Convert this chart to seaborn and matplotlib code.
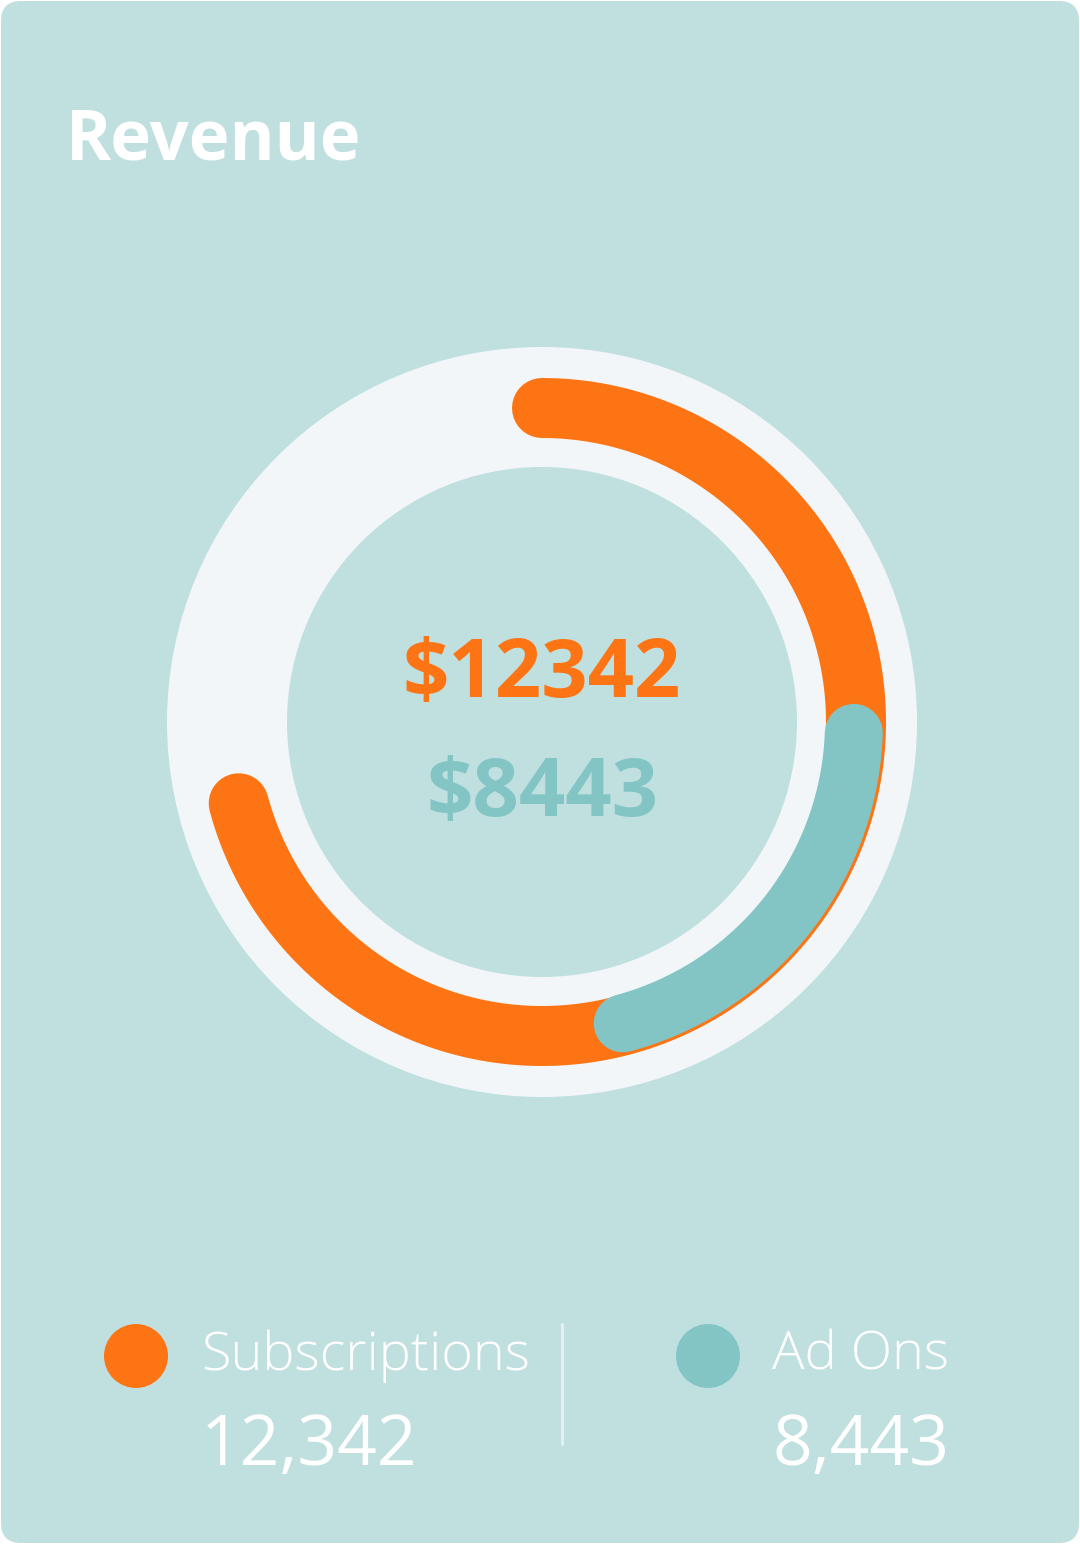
import numpy as np
import pandas as pd
import seaborn as sns
import matplotlib
matplotlib.use("Agg")
import matplotlib.pyplot as plt
from matplotlib.patches import FancyBboxPatch, Circle

# ---- data ----
categories = ["Subscriptions", "Ad Ons"]
values = [12342, 8443]
value_labels = ["12,342", "8,443"]
center_labels = ["$12342", "$8443"]
# arc extents in degrees, clockwise from 12 o'clock
arc_start_deg = [0, 92]
arc_end_deg = [255, 165]
title = "Revenue"

# ---- style ----
sns.set_theme(style="white")
plt.rcParams['font.family'] = ['Open Sans', 'DejaVu Sans']

BG = "#C0E0DF"
TRACK = "#F2F6F8"
colors = ["#FD7414", "#83C5C5"]

W, H = 1080, 1544
fig = plt.figure(figsize=(W / 100, H / 100), dpi=100)
fig.patch.set_facecolor("white")
ax = fig.add_axes([0, 0, 1, 1])
ax.set_xlim(0, W)
ax.set_ylim(H, 0)
ax.set_aspect("equal")
ax.axis("off")

# card
card = FancyBboxPatch((1, 1), W - 2, H - 2, boxstyle="round,pad=0,rounding_size=20",
                      fc=BG, ec="none", zorder=0)
ax.add_patch(card)

ax.text(66, 160, title, color="white", fontsize=49.5, fontweight="bold",
        ha="left", va="baseline", zorder=5)

# donut track
cx, cy = 542, 722
ax.add_patch(Circle((cx, cy), 375, fc=TRACK, ec="none", zorder=1))
ax.add_patch(Circle((cx, cy), 255, fc=BG, ec="none", zorder=1))

radii = [314, 312]
widths = [60, 58]
rows = []
for i, (cat, a0, a1) in enumerate(zip(categories, arc_start_deg, arc_end_deg)):
    t = np.radians(np.linspace(a0, a1, 400))
    rows.append(pd.DataFrame({"x": cx + radii[i] * np.sin(t),
                              "y": cy - radii[i] * np.cos(t),
                              "cat": cat}))
for i, df in enumerate(rows):
    sns.lineplot(data=df, x="x", y="y", sort=False, estimator=None, ax=ax,
                 color=colors[i], linewidth=widths[i] * 0.72,
                 solid_capstyle="round", zorder=3 + i, legend=False)
ax.set_xlim(0, W)
ax.set_ylim(H, 0)
ax.set_xlabel("")
ax.set_ylabel("")

# center labels
ax.text(cx, 676, center_labels[0], color=colors[0], fontsize=58.5, fontweight="bold",
        ha="center", va="center", zorder=6)
ax.text(cx, 795, center_labels[1], color=colors[1], fontsize=58.5, fontweight="bold",
        ha="center", va="center", zorder=6)

# legend
leg = pd.DataFrame({"x": [136, 708], "y": [1356, 1356], "cat": categories})
sns.scatterplot(data=leg, x="x", y="y", hue="cat", palette=colors, s=(64 * 0.72) ** 2,
                linewidth=0, ax=ax, legend=False, zorder=6)
ax.set_xlim(0, W)
ax.set_ylim(H, 0)
ax.set_xlabel("")
ax.set_ylabel("")

text_x = [201, 772]
for i in range(2):
    ax.text(text_x[i], 1370, categories[i], color="white", fontsize=39,
            fontweight="light", ha="left", va="baseline", zorder=6)
    ax.text(text_x[i], 1465, value_labels[i], color="white", fontsize=50,
            fontweight="normal", ha="left", va="baseline", zorder=6)

ax.plot([562, 562], [1324, 1444], color="#E6EFF0", linewidth=2.2, zorder=6)

fig.savefig("out.png", dpi=100, facecolor=fig.get_facecolor())
